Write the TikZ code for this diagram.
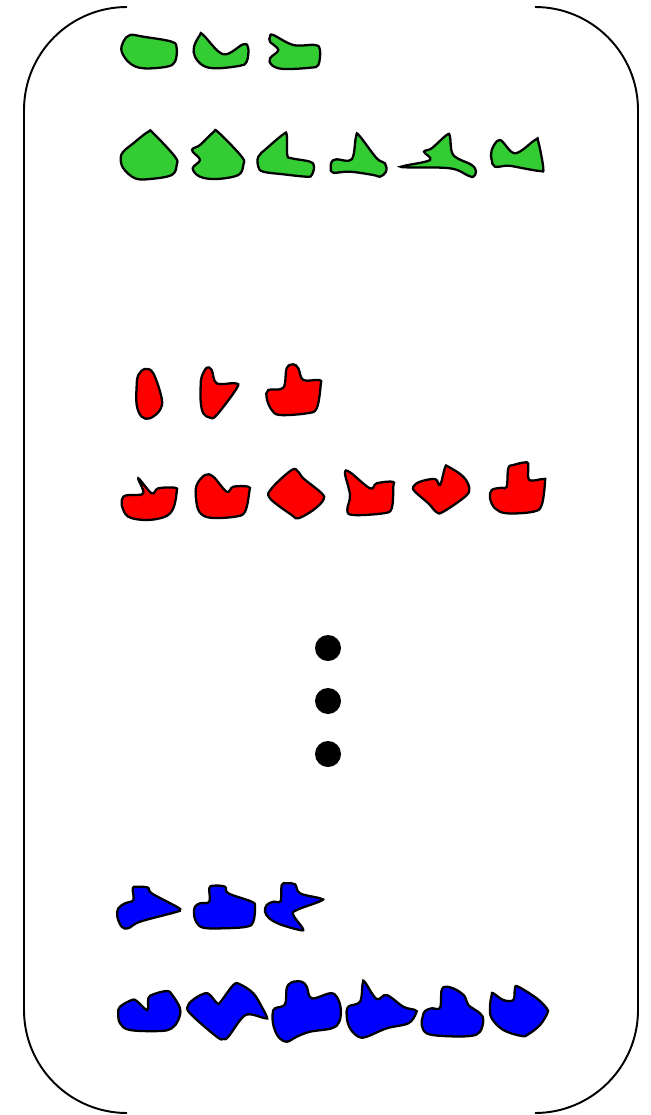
\documentclass[tikz,border=0pt]{standalone}
\usepackage{tikz}
\definecolor{blobgreen}{RGB}{51,204,51}
\definecolor{blobred}{RGB}{255,0,0}
\definecolor{blobblue}{RGB}{0,0,255}

\begin{document}
\begin{tikzpicture}[x=0.02cm, y=-0.02cm,
  blob/.style={draw=black, line width=1.3pt, smooth cycle, tension=0.6}]
  \useasboundingbox (0,0) rectangle (650,1115);
  % brackets
  \draw[line width=1.1pt] (127,7) arc[start angle=270, end angle=180, radius=103]
    -- (24,1010) arc[start angle=180, end angle=90, radius=103];
  \draw[line width=1.1pt] (535,7) arc[start angle=270, end angle=360, radius=103]
    -- (638,1010) arc[start angle=0, end angle=90, radius=103];
  % green, first row
  \draw[blob, fill=blobgreen] plot coordinates {(123.3,41.7) (130,35) (143.3,36.7) (171.7,41.7) (176.7,48.3) (175,61.7) (166.7,66.7) (143.3,68.3) (130,63.3) (121.7,51.7)};
  \draw[blob, fill=blobgreen] plot coordinates {(200,35) (203.3,35) (223.3,54.3) (243.3,44.3) (248.3,48.3) (246.7,61.7) (240,65.7) (216.7,68.3) (203.3,65.7) (195,56.7) (194,46.7)};
  \draw[blob, fill=blobgreen] plot coordinates {(270,36.7) (273.3,35) (293.3,45) (315,45) (320,50) (318.3,65) (310,67.7) (283.3,69) (271.7,65) (270,58.3) (278.3,50) (270,41.7)};
  % green, second row
  \draw[blob, fill=blobgreen] plot coordinates {(123.3,151.7) (133.3,143.3) (148.3,131.7) (153.3,133.3) (175,156.7) (176.7,165) (171.7,175) (150,179) (135,178.3) (123.3,168.3) (120.7,158.3)};
  \draw[blob, fill=blobgreen] plot coordinates {(193.3,148.3) (200,145) (213.3,132.3) (218.3,132.3) (241.7,156.7) (243.3,165) (238.3,175) (216.7,179) (200,176.7) (192.7,168.3) (200,160) (192.7,151.7)};
  \draw[blob, fill=blobgreen] plot coordinates {(258.3,156.7) (266.7,148.3) (283.3,134.3) (286.7,135) (287.3,155) (291.7,158.3) (310,161.7) (314,166.7) (311.7,175) (306.7,176.7) (283.3,174.3) (263.3,171.7) (258.3,166.7)};
  \draw[blob, fill=blobgreen] plot coordinates {(331.7,161.7) (336.7,159.3) (351.7,159.3) (356,136.7) (359.3,135.7) (376.7,158.3) (385,163.3) (386,171.7) (380,176.7) (373.3,175) (350,171.7) (333.3,172.7) (330.7,168.3)};
  \draw[blob, fill=blobgreen] plot coordinates {(405,165.7) (430,160) (424,151.7) (431.7,148.3) (446.7,135) (450,136.7) (453.3,155) (471.7,165) (476,171.7) (473.3,176.7) (468.3,175.7) (450,168.3) (405,167.3)};
  \draw[blob, fill=blobgreen] plot coordinates {(491.7,150) (500,140) (515,153.3) (535,140) (538.3,141.7) (543.3,168.3) (540,171) (523.3,168.3) (508.3,165.7) (495,166.7) (491.7,160)};
  % red, first row
  \draw[blob, fill=blobred] plot coordinates {(138.3,375) (145,369) (153.3,373.3) (161.7,398.3) (160,410) (150,418.3) (141.7,416.7) (136.7,405) (136.7,385)};
  \draw[blob, fill=blobred] plot coordinates {(201.7,376.7) (206.7,367.7) (211.7,370) (216.7,383.3) (235,383.3) (236.7,388.3) (216.7,415) (210,417.7) (203.3,413.3) (200.7,401.7) (200.7,385)};
  \draw[blob, fill=blobred] plot coordinates {(268.3,390) (283.3,387.7) (286.7,368.3) (293.3,364.3) (298.3,368.3) (303.3,380) (319.3,380) (320.7,385) (316.7,408.3) (306.7,413.3) (280,415) (271.7,410) (266.7,398.3)};
  % red, second row
  \draw[blob, fill=blobred] plot coordinates {(123.3,496.7) (130,495) (143.3,493.3) (138.3,478.3) (151.7,493.3) (158.3,488.3) (175,487.7) (176.7,491.7) (173.3,508.3) (165,516.7) (146.7,520) (128.3,516.7) (121.7,505)};
  \draw[blob, fill=blobred] plot coordinates {(196.7,485) (205,475) (213.3,476.7) (226.7,491.7) (233.3,486.7) (248.3,486.7) (249.3,491.7) (245,511.7) (235,516.7) (210,517.7) (199.3,511.7) (196,498.3)};
  \draw[blob, fill=blobred] plot coordinates {(271.7,488.3) (291.7,470) (298.3,471.7) (303.3,478.3) (321.7,493.3) (323.3,500) (313.3,510) (298.3,518.3) (291.7,515) (270,498.3)};
  \draw[blob, fill=blobred] plot coordinates {(345,473.3) (350,472.3) (370,488.3) (376.7,483.3) (392.7,481.7) (393.3,486.7) (391.7,508.3) (383.3,513.3) (353.3,515) (347.3,510) (350,495)};
  \draw[blob, fill=blobred] plot coordinates {(413.3,486.7) (420,481.7) (435,479) (440,485) (445,467.7) (448.3,466.7) (463.3,476.7) (469.3,488.3) (465,496.7) (443.3,511.7) (436.7,512.3) (428.3,503.3) (415,491.7)};
  \draw[blob, fill=blobred] plot coordinates {(491.7,490) (501.7,487.7) (506.7,486.7) (508.3,468.3) (513.3,465) (526.7,462.3) (528.3,466.7) (529.3,480) (543.3,479) (545,481.7) (541.7,505) (533.3,511.7) (506.7,513.3) (495,508.3) (490,498.3)};
  % dots
  \fill (328,648) circle[radius=13];
  \fill (328,701) circle[radius=13];
  \fill (328,754) circle[radius=13];
  % blue, first row
  \draw[blob, fill=blobblue] plot coordinates {(118.3,908.3) (125,903.3) (133.3,900) (132.7,888.3) (136.7,886.7) (148.3,887.7) (151.7,893.3) (176.7,906.7) (180,910) (175,912.3) (140,921.7) (128.3,928.3) (121.7,926.7) (117.3,916.7)};
  \draw[blob, fill=blobblue] plot coordinates {(195,906.7) (200,903.3) (209.3,901.7) (209.3,888.3) (213.3,885.7) (225,886.7) (228.3,893.3) (251.7,901.7) (255,906.7) (253.3,921.7) (246.7,926.7) (223.3,928.3) (203.3,927.7) (196,921.7) (194,913.3)};
  \draw[blob, fill=blobblue] plot coordinates {(266.7,905) (273.3,901.7) (280.7,901) (281.7,885) (286.7,883.3) (295,884.3) (300,893.3) (320,898.3) (320.7,901) (296.7,910) (293.3,915) (302.7,928.3) (300,930) (280,924.3) (269.3,918.3) (265,911.7)};
  % blue, second row
  \draw[blob, fill=blobblue] plot coordinates {(120,1006.7) (131.7,1000) (136.7,1001) (147.3,1010) (148.3,998.3) (153.3,994.3) (166.7,991) (171.7,994.3) (180,1008.3) (178.3,1020) (171.7,1028.3) (160,1031) (130,1030) (120,1023.3) (118.3,1013.3)};
  \draw[blob, fill=blobblue] plot coordinates {(188.3,1005) (195,998.3) (205,993.3) (210,995) (217.3,1003.3) (220.7,1001.7) (233.3,985) (240,984.3) (253.3,993.3) (261.7,1006.7) (266.7,1016.7) (265,1018.3) (250,1014.3) (241.7,1018.3) (228.3,1036.7) (223.3,1039) (216.7,1036.7) (190,1013.3)};
  \draw[blob, fill=blobblue] plot coordinates {(275,1008.3) (285,1004.3) (286.7,988.3) (291.7,982.3) (301.7,981.7) (306.7,986.7) (311.7,998.3) (330,993.3) (336.7,996.7) (340.7,1008.3) (339.3,1021.7) (331.7,1028.3) (310,1031.7) (296.7,1036.7) (286.7,1041.7) (278.3,1036.7) (273.3,1025) (272.7,1013.3)};
  \draw[blob, fill=blobblue] plot coordinates {(348.3,1006.7) (360,1001.7) (362.7,983.3) (365,982.3) (376.7,999) (386.7,995) (403.3,1006.7) (415,1010) (416,1013.3) (408.3,1023.3) (386.7,1028.3) (366.7,1036.7) (358.3,1036.7) (350,1028.3) (346.7,1016.7)};
  \draw[blob, fill=blobblue] plot coordinates {(425,1011) (431.7,1008.3) (440,1007.7) (441.7,990) (446.7,986.7) (456.7,990) (465,996.7) (468.3,1005) (480,1013.3) (483.3,1020) (480,1031.7) (470,1036) (443.3,1036) (426.7,1033.3) (421.7,1025) (422.7,1016.7)};
  \draw[blob, fill=blobblue] plot coordinates {(491.7,995) (493.3,993.3) (503.3,1000) (513.3,1000) (515,988.3) (518.3,986.7) (536.7,998.3) (546.7,1008.3) (547.3,1013.3) (540,1025) (528.3,1034.3) (521.7,1036) (503.3,1030) (491.7,1018.3) (490,1006.7)};
\end{tikzpicture}
\end{document}
